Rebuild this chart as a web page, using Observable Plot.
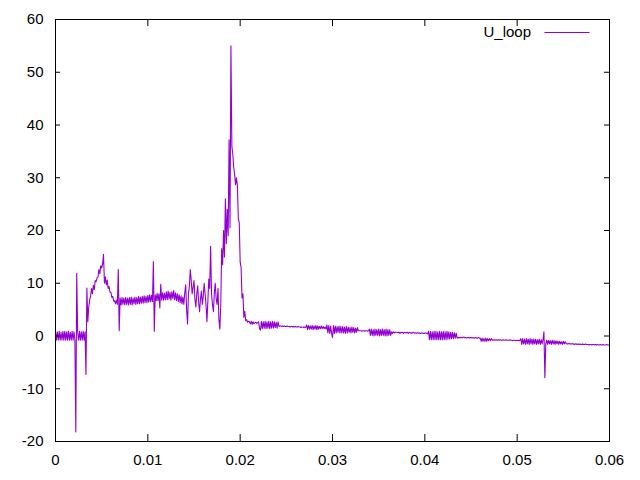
<!DOCTYPE html>
<html>
<head>
<meta charset="utf-8">
<script src="https://cdn.jsdelivr.net/npm/d3@7"></script>
<script src="https://cdn.jsdelivr.net/npm/@observablehq/plot@0.6"></script>
<style>
  html, body { margin: 0; padding: 0; background: #ffffff; }
</style>
</head>
<body>
<div id="chart"></div>
<script>
// ---- data ----
const seriesName = "U_loop";
const sampleStep = 0.0001; // s, oscilloscope sampling interval
// one row = 10 samples = 1 ms
const uLoop = [
  0.9,-0.8,0.8,-0.8,0.9,-0.8,0.7,-0.8,0.9,-0.8,
  0.9,-0.8,0.8,-0.8,0.9,-0.8,0.7,-0.8,0.9,-0.8,
  0.8,-0.8,-18.2,11.9,0.7,-0.8,0.9,-0.8,0.8,-0.8,
  0.9,-0.8,0.8,-7.3,9.1,2.7,5.5,6.8,7.6,9.0,
  8.0,9.6,8.8,10.5,10.3,11.0,11.2,12.6,11.8,13.3,
  12.9,13.6,15.5,10.0,11.2,9.7,10.6,9.0,9.4,8.3,
  8.3,7.3,7.5,6.6,6.7,6.1,6.8,6.0,12.6,1.0,
  7.2,5.9,7.3,6.0,7.2,5.9,7.3,6.0,7.2,5.9,
  7.3,6.0,7.4,5.9,7.2,6.1,7.4,6.0,7.3,6.1,
  7.5,6.1,7.4,6.2,7.5,6.2,7.6,6.3,7.5,6.3,
  7.7,6.4,7.8,6.5,7.7,6.5,14.1,0.9,7.8,6.7,
  8.1,6.7,8.0,5.3,9.8,6.8,8.2,6.8,8.1,6.9,
  8.4,6.9,8.5,7.0,8.3,6.8,8.4,7.1,8.6,6.9,
  8.2,6.7,8.0,6.5,7.8,6.3,7.6,6.1,7.4,6.0,
  8.2,9.7,5.0,2.3,8.0,9.5,12.6,10.5,8.0,9.2,
  10.5,7.0,5.5,8.0,9.5,6.5,4.6,7.0,8.5,6.0,
  7.5,10.0,8.0,6.0,2.7,6.5,10.8,9.0,17.0,8.0,
  6.0,4.6,8.0,10.0,7.0,6.0,9.0,3.0,1.3,6.0,
  16.6,13.5,20.0,15.0,26.0,17.5,24.0,19.0,37.2,20.5,
  55.0,36.0,34.5,32.0,30.6,28.7,30.0,28.5,22.3,21.5,
  14.0,13.0,7.2,8.0,3.5,4.7,2.9,3.1,2.6,2.8,
  2.7,2.3,2.8,2.2,2.7,2.3,2.5,2.6,2.4,2.5,
  2.7,1.4,1.1,2.8,1.4,2.7,1.5,2.8,1.4,2.7,
  1.5,2.8,1.4,2.7,1.5,2.8,1.5,2.7,1.6,2.6,
  1.5,2.7,1.8,1.9,1.9,1.8,1.9,1.8,1.9,1.8,
  1.8,1.9,1.8,1.8,1.7,1.8,1.8,1.7,1.8,1.7,
  1.8,1.7,1.7,1.8,1.7,1.7,1.6,1.7,1.7,1.6,
  1.7,1.6,2.1,1.2,2.0,1.3,1.9,1.3,2.0,1.2,
  1.9,1.3,2.0,1.2,1.9,1.3,1.8,1.4,1.9,1.4,
  1.8,1.4,1.7,1.3,2.1,0.6,2.0,0.5,1.9,0.5,
  -0.3,2.0,0.5,1.9,0.6,1.8,0.7,1.9,0.6,1.8,
  0.6,1.8,0.6,1.7,0.5,1.8,0.6,1.7,0.7,1.6,
  0.6,1.7,0.7,1.6,0.6,1.5,0.7,1.6,1.0,1.0,
  1.0,1.0,0.9,1.0,1.0,0.9,1.0,1.0,0.9,1.0,
  1.3,0.1,1.3,0.1,1.2,0.0,1.3,0.1,1.2,0.1,
  1.3,0.0,1.2,0.1,1.3,0.1,1.2,0.0,1.3,0.0,
  1.2,0.1,1.2,0.1,0.8,0.5,0.8,0.6,0.7,0.7,
  0.7,0.6,0.7,0.5,0.7,0.6,0.7,0.5,0.7,0.6,
  0.6,0.7,0.5,0.7,0.6,0.6,0.5,0.7,0.6,0.5,
  0.6,0.5,0.6,0.5,0.6,0.5,0.5,0.6,0.5,0.5,
  0.5,0.6,0.5,0.4,0.9,-0.7,0.9,-0.7,0.8,-0.7,
  0.9,-0.7,0.9,-0.7,0.8,-0.7,0.9,-0.7,0.8,-0.7,
  0.9,-0.7,0.8,-0.7,0.9,-0.6,0.8,-0.6,0.7,-0.5,
  0.7,-0.5,0.6,-0.4,0.5,-0.4,-0.3,-0.3,-0.3,-0.3,
  -0.3,-0.3,-0.2,-0.3,-0.3,-0.4,-0.3,-0.3,-0.4,-0.3,
  -0.3,-0.4,-0.3,-0.4,-0.4,-0.3,-0.4,-0.4,-0.3,-0.4,
  -0.4,-1.0,-0.4,-1.0,-0.5,-1.0,-0.4,-1.0,-0.5,-0.9,
  -0.5,-0.9,-0.5,-0.8,-0.7,-0.8,-0.7,-0.8,-0.7,-0.8,
  -0.7,-0.8,-0.7,-0.8,-0.8,-0.7,-0.8,-0.8,-0.7,-0.8,
  -0.8,-0.8,-0.7,-0.8,-0.8,-0.9,-0.8,-0.8,-0.9,-0.8,
  -0.9,-0.8,-0.9,-0.8,-0.5,-1.6,-0.5,-1.5,-0.6,-1.6,
  -0.5,-1.5,-0.6,-1.6,-0.5,-1.5,-0.6,-1.6,-0.6,-1.5,
  -0.6,-1.6,-0.7,-1.5,-0.6,-1.6,-0.7,-1.5,-0.7,0.8,
  -7.9,-1.5,-0.8,-1.6,-0.8,-1.5,-0.9,-1.6,-0.8,-1.5,
  -0.9,-1.6,-0.9,-1.5,-1.0,-1.6,-1.0,-1.5,-1.1,-1.6,
  -1.0,-1.5,-1.1,-1.4,-1.5,-1.5,-1.4,-1.5,-1.5,-1.5,
  -1.5,-1.5,-1.6,-1.5,-1.5,-1.6,-1.5,-1.6,-1.5,-1.6,
  -1.6,-1.5,-1.6,-1.6,-1.5,-1.6,-1.6,-1.6,-1.7,-1.6,
  -1.6,-1.7,-1.6,-1.6,-1.7,-1.6,-1.7,-1.6,-1.7,-1.7,
  -1.6,-1.7,-1.7,-1.6,-1.7,-1.7,-1.7,-1.6,-1.7,-1.7,
  -1.7
];
const xTicks = [0, 0.01, 0.02, 0.03, 0.04, 0.05, 0.06];
const xTickLabels = ["0", "0.01", "0.02", "0.03", "0.04", "0.05", "0.06"];
const yTicks = [-20, -10, 0, 10, 20, 30, 40, 50, 60];
const yTickLabels = ["-20", "-10", "0", "10", "20", "30", "40", "50", "60"];

// ---- table ----
const table = uLoop.map((v, i) => ({t: i * sampleStep, v}));

// ---- layout ----
const W = 640, H = 480;
const mL = 55, mR = 31, mT = 19, mB = 39;
const plotW = W - mL - mR, plotH = H - mT - mB;
const purple = "#9400d3";
const xTickLen = 7, yTickLen = 5;

function legend(index, scales, values, dims) {
  const right = dims.width - dims.marginRight;
  const top = dims.marginTop;
  const g = d3.create("svg:g");
  g.append("text")
    .attr("x", right - 78).attr("y", top + 13).attr("dy", "0.35em")
    .attr("text-anchor", "end").attr("fill", "black")
    .text(seriesName);
  g.append("line")
    .attr("x1", right - 64.5).attr("x2", right - 19.5)
    .attr("y1", top + 13.5).attr("y2", top + 13.5)
    .attr("stroke", purple).attr("stroke-width", 1);
  return g.node();
}

const chart = Plot.plot({
  width: W, height: H,
  marginLeft: mL, marginRight: mR, marginTop: mT, marginBottom: mB,
  style: {fontFamily: "'Liberation Sans', Arial, sans-serif", fontSize: "15px", background: "white", color: "black"},
  x: {domain: [0, 0.06], label: null},
  y: {domain: [-20, 60], label: null},
  marks: [
    Plot.line(table, {x: "t", y: "v", stroke: purple, strokeWidth: 1.1}),
    Plot.tickX(xTicks, {x: d => d, insetTop: plotH - xTickLen, stroke: "black"}),
    Plot.tickX(xTicks, {x: d => d, insetBottom: plotH - xTickLen, stroke: "black"}),
    Plot.tickY(yTicks, {y: d => d, insetRight: plotW - yTickLen, stroke: "black"}),
    Plot.tickY(yTicks, {y: d => d, insetLeft: plotW - yTickLen, stroke: "black"}),
    Plot.frame({stroke: "black"}),
    Plot.axisX(xTicks, {tickSize: 0, tickPadding: 13, label: null, tickFormat: d => xTickLabels[xTicks.indexOf(d)], fill: "black"}),
    Plot.axisY(yTicks, {tickSize: 0, tickPadding: 12, label: null, tickFormat: d => yTickLabels[yTicks.indexOf(d)], fill: "black"}),
    legend
  ]
});
document.getElementById("chart").appendChild(chart);
</script>
</body>
</html>
